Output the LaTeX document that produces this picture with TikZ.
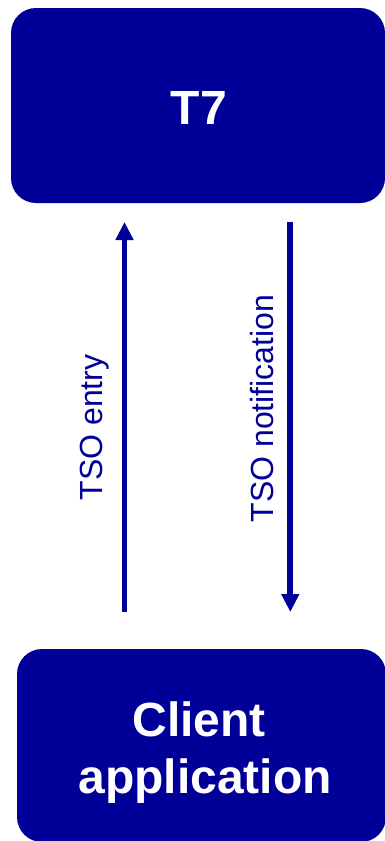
\documentclass[tikz,border=0pt]{standalone}
\usepackage{fontspec}
\setmainfont{Liberation Sans}
\usetikzlibrary{arrows.meta}
\definecolor{dblue}{RGB}{0,0,153}
\begin{document}
\begin{tikzpicture}[x=1pt,y=-1pt,
  box/.style={fill=dblue, draw=none, rounded corners=25pt, inner sep=0pt},
  boxtext/.style={text=white, font=\bfseries\fontsize{48}{57}\selectfont, anchor=base, inner sep=0pt},
  lbl/.style={text=dblue, font=\fontsize{32}{38}\selectfont, rotate=90, anchor=base, inner sep=0pt},
  flow/.style={draw=dblue, line width=5.8pt, -{Triangle[length=18pt,width=17pt]}}]
\useasboundingbox (0,0) rectangle (385,841);
\clip (0,0) rectangle (385,841);
\node[box, minimum width=374pt, minimum height=195pt] (t7) at (198,105.5) {};
\node[box, minimum width=369pt, minimum height=193pt] (client) at (201.5,745.5) {};
\node[boxtext] (t7text) at (199,124) {T7};
\node[boxtext] (clienttext1) at (199.2,736) {Client};
\node[boxtext] (clienttext2) at (205,793) {application};
\coordinate (entrystart) at (124.5,612);
\coordinate (entryend) at (124.5,222);
\coordinate (notifstart) at (290.3,222);
\coordinate (notifend) at (290.3,612);
\draw[flow] (entrystart) -- (entryend);
\draw[flow] (notifstart) -- (notifend);
\node[lbl] (entrylbl) at (102.7,427.5) {TSO entry};
\node[lbl] (notiflbl) at (273,408.5) {TSO notification};
\end{tikzpicture}
\end{document}
